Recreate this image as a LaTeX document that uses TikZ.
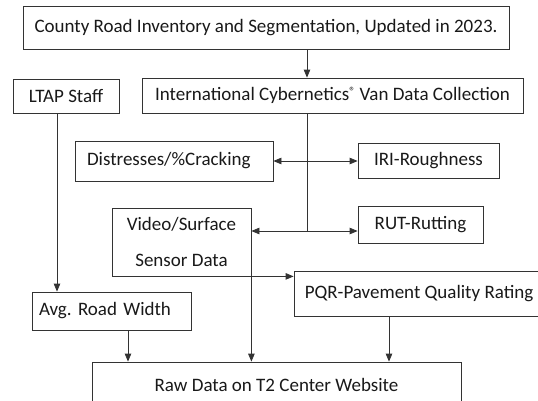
\documentclass[tikz,border=0pt]{standalone}
\usepackage{fontspec}
\setmainfont{Carlito}
\usetikzlibrary{arrows.meta}
\begin{document}
\begin{tikzpicture}[x=1pt,y=-1pt,
  box/.style={draw=black!80, line width=0.8pt, inner sep=0pt, align=center,
    font=\fontsize{19}{23}\selectfont, text=black!90},
  lbox/.style={box, align=left, inner xsep=12pt},
  conn/.style={draw=black!80, line width=0.8pt},
  arr/.style={conn, -{Triangle[length=8pt,width=6.5pt]}},
  darr/.style={conn, {Triangle[length=8pt,width=6.5pt]}-{Triangle[length=8pt,width=6.5pt]}}]
\useasboundingbox (0,0) rectangle (538,400);
\fill[white] (0,0) rectangle (538,400);
% boxes
\node[box, minimum width=486pt, minimum height=43pt] (county) at (266,27.5)
  {County Road Inventory and Segmentation, Updated in 2023.};
\node[box, minimum width=106pt, minimum height=34pt] (ltap) at (66,96) {LTAP Staff};
\node[box, minimum width=381pt, minimum height=35pt] (intl) at (332.5,95.5)
  {International Cybernetics{\fontsize{12}{12}\selectfont\raisebox{5pt}{®}} Van Data Collection};
\node[lbox, text width=174pt, minimum height=40pt] (dist) at (174,161) {Distresses/\%Cracking};
\node[box, minimum width=141pt, minimum height=35pt] (iri) at (428.5,160.5) {IRI-Roughness};
\node[box, minimum width=139pt, minimum height=68pt] (video) at (181.5,242)
  {Video/Surface\\[13pt]Sensor Data};
\node[box, minimum width=125pt, minimum height=37pt] (rut) at (420.5,224.5) {RUT-Rutting};
\node[box, minimum width=250pt, minimum height=45pt] (pqr) at (419,293.5)
  {PQR-Pavement Quality Rating};
\node[lbox, text width=145pt, minimum height=38pt, inner xsep=7pt] (avg) at (111.5,311)
  {\frenchspacing Avg.\ Road Width};
\node[box, minimum width=369pt, minimum height=46pt] (raw) at (276.5,385)
  {Raw Data on T2 Center Website};
% helper coordinates
\coordinate (trunk) at (307,231);
\coordinate (lx) at (57,0);
\coordinate (ax) at (128,0);
\coordinate (px) at (389,0);
% connectors
\draw[arr] (county.south -| trunk) -- (intl.north -| trunk);
\draw[conn] (intl.south -| trunk) -- (trunk);
\draw[darr] (dist.east) -- (dist.east -| iri.west);
\draw[darr] (trunk -| video.east) -- (trunk -| rut.west);
\draw[arr] (ltap.south -| lx) -- (avg.north -| lx);
\draw[arr] (video.south east) -- (video.south east -| pqr.west);
\draw[arr] (video.south east) -- (video.south east |- raw.north);
\draw[arr] (avg.south -| ax) -- (raw.north -| ax);
\draw[arr] (pqr.south -| px) -- (raw.north -| px);
\end{tikzpicture}
\end{document}
